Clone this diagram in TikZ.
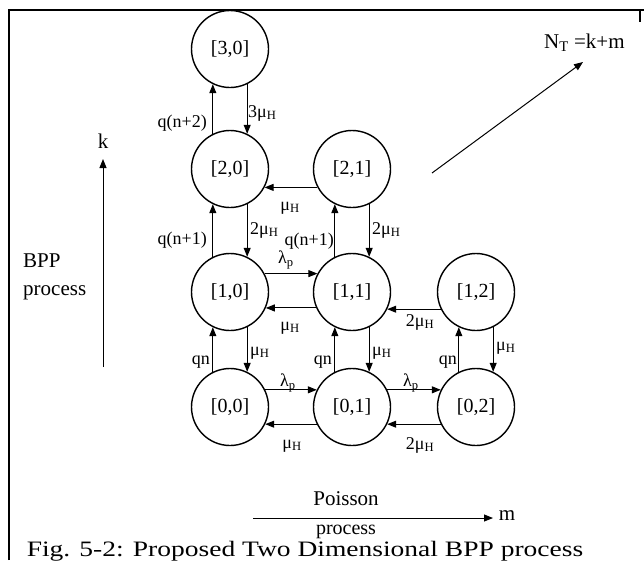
\documentclass[tikz,border=0pt]{standalone}
\usepackage{fontspec}
\setmainfont{Liberation Serif}
\usetikzlibrary{arrows.meta}
\begin{document}
\begin{tikzpicture}[x=1pt,y=-1pt,
  state/.style={circle,draw,line width=1.4pt,minimum size=77pt,inner sep=0pt,font=\fontsize{20}{22}\selectfont},
  tr/.style={-{Triangle[length=9pt,width=7pt]},line width=1pt},
  lab/.style={font=\fontsize{18}{20}\selectfont,inner sep=1pt},
  axlab/.style={font=\fontsize{21}{23}\selectfont,inner sep=1pt}]
\useasboundingbox (0,0) rectangle (644,560);
\draw[line width=1.2pt] (9,560) -- (9,10) -- (644,10);
\draw[line width=1.2pt] (640,10) -- (640,22);
% states
\node[state] (s30) at (230,49) {[3,0]};
\node[state] (s20) at (230,169) {[2,0]};
\node[state] (s21) at (352,169) {[2,1]};
\node[state] (s10) at (230,292) {[1,0]};
\node[state] (s11) at (352,292) {[1,1]};
\node[state] (s12) at (476,292) {[1,2]};
\node[state] (s00) at (230,407) {[0,0]};
\node[state] (s01) at (352,407) {[0,1]};
\node[state] (s02) at (476,407) {[0,2]};
% vertical transitions
\draw[tr] (s20.116) -- (s30.244);
\draw[tr] (s30.296) -- (s20.64);
\draw[tr] (s10.116) -- (s20.244);
\draw[tr] (s20.296) -- (s10.64);
\draw[tr] (s11.116) -- (s21.244);
\draw[tr] (s21.296) -- (s11.64);
\draw[tr] (s00.116) -- (s10.244);
\draw[tr] (s10.296) -- (s00.64);
\draw[tr] (s01.116) -- (s11.244);
\draw[tr] (s11.296) -- (s01.64);
\draw[tr] (s02.116) -- (s12.244);
\draw[tr] (s12.296) -- (s02.64);
% horizontal transitions
\draw[tr] (s21.208) -- (s20.332);
\draw[tr] (s10.28) -- (s11.152);
\draw[tr] (s11.204) -- (s10.336);
\draw[tr] (s12.206) -- (s11.334);
\draw[tr] (s00.26) -- (s01.154);
\draw[tr] (s01.206) -- (s00.334);
\draw[tr] (s01.26) -- (s02.154);
\draw[tr] (s02.206) -- (s01.334);
% labels
\node[lab,anchor=east] (l1) at (208,123) {q(n+2)};
\node[lab,anchor=west] (l2) at (247,113) {3μ\textsubscript{H}};
\node[lab,anchor=east] (l3) at (208,240) {q(n+1)};
\node[lab,anchor=west] (l4) at (249,230) {2μ\textsubscript{H}};
\node[lab,anchor=east] (l5) at (335,241) {q(n+1)};
\node[lab,anchor=west] (l6) at (371,230) {2μ\textsubscript{H}};
\node[lab] (l7) at (290,208) {μ\textsubscript{H}};
\node[lab] (l8) at (286,260) {λ\textsubscript{p}};
\node[lab] (l9) at (290,328) {μ\textsubscript{H}};
\node[lab] (l10) at (420,322) {2μ\textsubscript{H}};
\node[lab,anchor=east] (l11) at (211,362) {qn};
\node[lab,anchor=west] (l12) at (249,353) {μ\textsubscript{H}};
\node[lab,anchor=east] (l13) at (333,362) {qn};
\node[lab,anchor=west] (l14) at (371,353) {μ\textsubscript{H}};
\node[lab,anchor=east] (l15) at (458,362) {qn};
\node[lab,anchor=west] (l16) at (495,348) {μ\textsubscript{H}};
\node[lab] (l17) at (288,383) {λ\textsubscript{p}};
\node[lab] (l18) at (411,383) {λ\textsubscript{p}};
\node[lab] (l19) at (292,446) {μ\textsubscript{H}};
\node[lab] (l20) at (420,445) {2μ\textsubscript{H}};
% axes
\coordinate (k0) at (103,367);
\coordinate (k1) at (103,159);
\draw[tr] (k0) -- (k1);
\node[axlab] (klab) at (103,141) {k};
\node[axlab,anchor=west] (bpp1) at (22,261) {BPP};
\node[axlab,anchor=west] (bpp2) at (22,293) {process};
\coordinate (m0) at (253,518);
\coordinate (m1) at (493,518);
\draw[tr] (m0) -- (m1);
\node[axlab] (mlab) at (507,516) {m};
\node[axlab] (pois1) at (346,499) {Poisson};
\node[axlab,font=\fontsize{20}{22}\selectfont] (pois2) at (346,532) {process};
\coordinate (n0) at (432,173);
\coordinate (n1) at (583,62);
\draw[tr] (n0) -- (n1);
\node[axlab,anchor=west] (nt) at (543,43) {N\textsubscript{T} =k+m};
\node[font=\fontsize{22}{24}\selectfont,inner sep=0pt] (cap) at (305,551) {\scalebox{1.25}[1]{Fig. 5-2: Proposed Two Dimensional BPP process}};
\end{tikzpicture}
\end{document}
